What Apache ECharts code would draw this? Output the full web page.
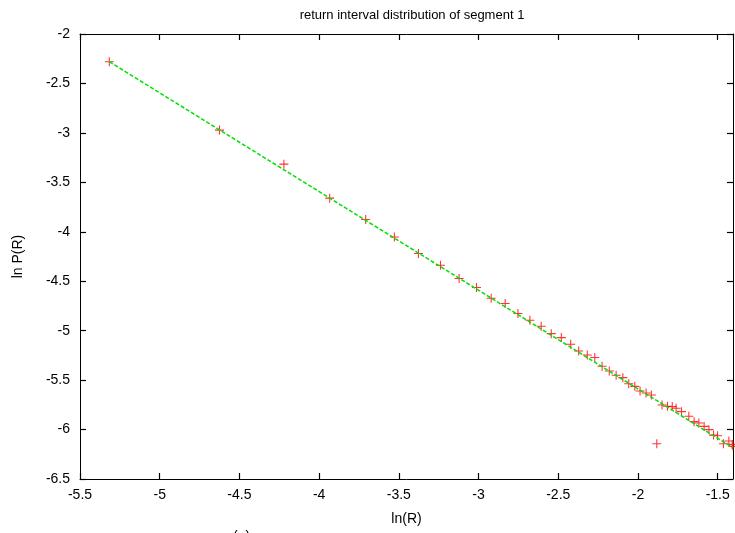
<!DOCTYPE html>
<html>
<head>
<meta charset="utf-8">
<script src="https://cdn.jsdelivr.net/npm/echarts@6/dist/echarts.min.js"></script>
<style>
  html, body { margin: 0; padding: 0; background: #fff; }
  #chart { width: 735px; height: 533px; }
</style>
</head>
<body>
<div id="chart"></div>
<script>
// ln(R) of each return interval bin
const lnR = [
  -5.316, -4.625, -4.221, -3.934, -3.708, -3.528, -3.377, -3.239, -3.122, -3.013,
  -2.921, -2.833, -2.753, -2.678, -2.607, -2.544, -2.481, -2.422, -2.372, -2.318,
  -2.271, -2.225, -2.180, -2.137, -2.095, -2.058, -2.020, -1.987, -1.949, -1.916,
  -1.882, -1.849, -1.815, -1.785, -1.761, -1.727, -1.681, -1.648, -1.618, -1.585,
  -1.555, -1.526, -1.501, -1.464, -1.430, -1.409, -1.404
];
// ln P(R) for the same bins
const lnP = [
  -2.280, -2.972, -3.316, -3.660, -3.876, -4.052, -4.220, -4.338, -4.473, -4.564,
  -4.672, -4.726, -4.827, -4.895, -4.955, -5.030, -5.070, -5.138, -5.205, -5.246,
  -5.272, -5.360, -5.408, -5.451, -5.475, -5.536, -5.563, -5.610, -5.630, -5.651,
  -6.143, -5.752, -5.765, -5.768, -5.785, -5.819, -5.866, -5.920, -5.934, -5.968,
  -6.001, -6.056, -6.062, -6.143, -6.116, -6.150, -6.170
];
// straight-line fit, given by its two end points
const fitX = [-5.316, -1.404];
const fitY = [-2.280, -6.184];

const xTicks = [-5.5, -5, -4.5, -4, -3.5, -3, -2.5, -2, -1.5];
const yTicks = [-6.5, -6, -5.5, -5, -4.5, -4, -3.5, -3, -2.5, -2];

const FONT = '"Liberation Sans", Arial, sans-serif';
const onTick = (v, list) => list.some(t => Math.abs(t - v) < 1e-6);

const chart = echarts.init(document.getElementById('chart'), null, { renderer: 'canvas' });

const axisBase = {
  type: 'value',
  axisLine: { show: true, onZero: false, lineStyle: { color: '#000', width: 1 } },
  axisTick: { show: true, inside: true, length: 6, lineStyle: { color: '#000', width: 1.2 } },
  splitLine: { show: false }
};

chart.setOption({
  animation: false,
  backgroundColor: '#fff',
  title: {
    text: 'return interval distribution of segment 1',
    left: 407, top: 4, textAlign: 'center',
    textStyle: { fontFamily: FONT, fontSize: 13, fontWeight: 'normal', color: '#000' }
  },
  grid: { left: 80, right: 2, top: 34, bottom: 54, show: false },
  xAxis: [
    Object.assign({}, axisBase, {
      position: 'bottom', min: -5.5, max: -1.404, interval: 0.5,
      name: 'ln(R)', nameLocation: 'middle', nameGap: 33,
      nameTextStyle: { fontFamily: FONT, fontSize: 14, color: '#000' },
      axisLabel: {
        fontFamily: FONT, fontSize: 14, color: '#000', margin: 9,
        showMaxLabel: false,
        formatter: v => onTick(v, xTicks) ? String(v) : ''
      }
    }),
    Object.assign({}, axisBase, {
      position: 'top', min: -5.5, max: -1.404, interval: 0.5,
      axisLabel: { show: false }
    })
  ],
  yAxis: [
    Object.assign({}, axisBase, {
      position: 'left', min: -6.5, max: -2, interval: 0.5,
      name: 'ln P(R)', nameLocation: 'middle', nameGap: 55, nameRotate: 90,
      nameTextStyle: { fontFamily: FONT, fontSize: 14, color: '#000' },
      axisLabel: {
        fontFamily: FONT, fontSize: 14, color: '#000', margin: 10,
        formatter: v => onTick(v, yTicks) ? String(v) : ''
      }
    }),
    Object.assign({}, axisBase, {
      position: 'right', min: -6.5, max: -2, interval: 0.5,
      axisLabel: { show: false }
    })
  ],
  series: [
    {
      type: 'scatter',
      xAxisIndex: 0, yAxisIndex: 0,
      data: lnR.map((x, i) => [x, lnP[i]]),
      symbol: 'path://M0,4.4H10V5.6H0Z M4.4,0H5.6V10H4.4Z',
      symbolSize: 9,
      itemStyle: { color: '#ff0000' },
      clip: false,
      z: 2
    },
    {
      type: 'line',
      xAxisIndex: 0, yAxisIndex: 0,
      data: fitX.map((x, i) => [x, fitY[i]]),
      showSymbol: false,
      lineStyle: { color: '#00e000', width: 1.5, type: [4, 2] },
      clip: true,
      z: 3
    }
  ],
  graphic: [
    {
      type: 'text', left: 233, top: 530,
      style: { text: '(a)', font: '14px ' + FONT, fill: '#000' }
    }
  ]
});
</script>
</body>
</html>
